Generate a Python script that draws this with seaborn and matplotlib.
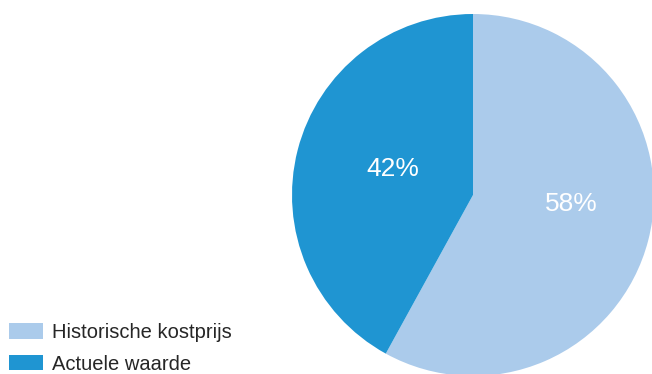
import matplotlib
matplotlib.use("Agg")
import matplotlib.pyplot as plt
import seaborn as sns
import numpy as np

# Portfolio valuation split
categories = ["Historische kostprijs", "Actuele waarde"]
shares = [58, 42]
colors = ["#abcbeb", "#1f95d2"]

sns.set_style("white")
plt.rcParams["font.family"] = ["Liberation Sans", "DejaVu Sans"]

W, H = 652, 374
fig = plt.figure(figsize=(W / 100, H / 100), dpi=100)

# Pie axes: centre (473, 195) px from the top-left, radius 181 px
cx, cy, r = 473, 195, 181
ax = fig.add_axes([(cx - r) / W, (H - cy - r) / H, 2 * r / W, 2 * r / H])

wedges, texts, autotexts = ax.pie(
    shares,
    colors=colors,
    startangle=90,
    counterclock=False,
    autopct="%.0f%%",
    pctdistance=0.5,
    textprops=dict(color="white", fontsize=19),
    wedgeprops=dict(linewidth=0),
)
ax.set_xlim(-1, 1)
ax.set_ylim(-1, 1)
ax.set_aspect("auto")
ax.axis("off")

# Nudge the percentage labels to their resting places inside the slices
label_polar = [(-5.5, 0.545), (162, 0.465)]
for t, (ang, rad) in zip(autotexts, label_polar):
    a = np.deg2rad(ang)
    t.set_position((rad * np.cos(a), rad * np.sin(a)))
    t.set_ha("center")
    t.set_va("center")

handles = [plt.Rectangle((0, 0), 1, 1, color=c, linewidth=0) for c in colors]
fig.legend(
    handles,
    categories,
    loc="lower left",
    bbox_to_anchor=(9 / W, 0.5 / H),
    frameon=False,
    fontsize=14.5,
    handlelength=1.7,
    handleheight=0.8,
    handletextpad=0.45,
    labelspacing=0.62,
    borderpad=0,
    borderaxespad=0,
)

fig.savefig("out.png", dpi=100)
